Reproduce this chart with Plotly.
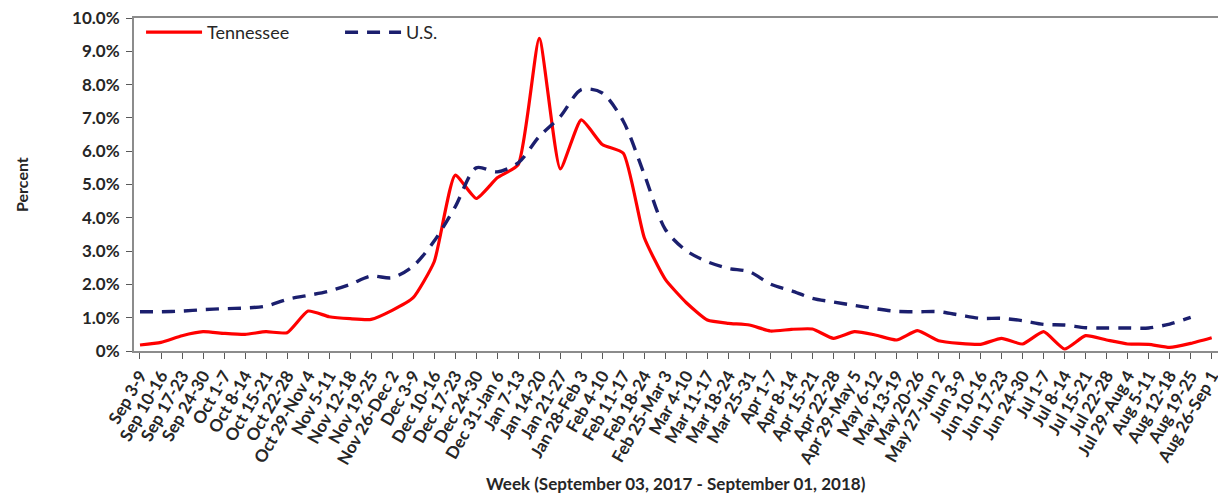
import plotly.graph_objects as go

weeks = ["Sep 3-9", "Sep 10-16", "Sep 17-23", "Sep 24-30", "Oct 1-7", "Oct 8-14",
         "Oct 15-21", "Oct 22-28", "Oct 29-Nov 4", "Nov 5-11", "Nov 12-18", "Nov 19-25",
         "Nov 26-Dec 2", "Dec 3-9", "Dec 10-16", "Dec 17-23", "Dec 24-30", "Dec 31-Jan 6",
         "Jan 7-13", "Jan 14-20", "Jan 21-27", "Jan 28-Feb 3", "Feb 4-10", "Feb 11-17",
         "Feb 18-24", "Feb 25-Mar 3", "Mar 4-10", "Mar 11-17", "Mar 18-24", "Mar 25-31",
         "Apr 1-7", "Apr 8-14", "Apr 15-21", "Apr 22-28", "Apr 29-May 5", "May 6-12",
         "May 13-19", "May 20-26", "May 27-Jun 2", "Jun 3-9", "Jun 10-16", "Jun 17-23",
         "Jun 24-30", "Jul 1-7", "Jul 8-14", "Jul 15-21", "Jul 22-28", "Jul 29-Aug 4",
         "Aug 5-11", "Aug 12-18", "Aug 19-25", "Aug 26-Sep 1"]

tennessee = [0.18, 0.26, 0.46, 0.58, 0.53, 0.50, 0.58, 0.55, 1.20, 1.03,
             0.97, 0.95, 1.22, 1.60, 2.68, 5.28, 4.58, 5.20, 5.60, 9.39,
             5.47, 6.94, 6.20, 5.94, 3.40, 2.15, 1.45, 0.93, 0.83, 0.78,
             0.60, 0.65, 0.66, 0.38, 0.58, 0.48, 0.33, 0.61, 0.31, 0.23,
             0.20, 0.38, 0.21, 0.58, 0.06, 0.46, 0.33, 0.21, 0.20, 0.11,
             0.23, 0.40]

us = [1.18, 1.18, 1.20, 1.24, 1.27, 1.29, 1.35, 1.55, 1.67, 1.80,
      2.00, 2.25, 2.20, 2.55, 3.30, 4.33, 5.50, 5.38, 5.65, 6.44,
      7.04, 7.85, 7.75, 6.90, 5.30, 3.65, 3.01, 2.68, 2.48, 2.38,
      2.01, 1.81, 1.58, 1.47, 1.37, 1.27, 1.19, 1.18, 1.18, 1.08,
      0.98, 0.98, 0.91, 0.80, 0.78, 0.70, 0.69, 0.69, 0.69, 0.81,
      1.01]

y_ticks = [0, 1, 2, 3, 4, 5, 6, 7, 8, 9, 10]
y_labels = ["0%", "1.0%", "2.0%", "3.0%", "4.0%", "5.0%", "6.0%", "7.0%", "8.0%", "9.0%", "10.0%"]

FONT = "Lato"
TXT = "#262626"

fig = go.Figure()
fig.add_trace(go.Scatter(
    x=weeks, y=tennessee, name="Tennessee", mode="lines",
    line=dict(color="#ff0000", width=3.2, shape="spline", smoothing=0.5),
))
fig.add_trace(go.Scatter(
    x=weeks[:len(us)], y=us, name="U.S.", mode="lines",
    line=dict(color="#1b1f6e", width=3.4, dash="13px,9px", shape="spline", smoothing=0.8),
))

fig.update_layout(
    width=1218, height=498,
    margin=dict(l=134, r=0, t=18, b=147),
    paper_bgcolor="white", plot_bgcolor="white",
    showlegend=True,
    legend=dict(
        orientation="h", x=0.0065, xanchor="left", y=1.012, yanchor="top",
        font=dict(family=FONT, size=18, color=TXT),
        itemwidth=56, entrywidth=128, entrywidthmode="pixels",
        bgcolor="rgba(0,0,0,0)",
    ),
    xaxis=dict(
        type="category", range=[-0.285, 51.3], automargin=False,
        showgrid=False, zeroline=False,
        showline=True, linecolor="#8c8c8c", linewidth=2, mirror=True,
        ticks="outside", ticklen=6, tickcolor="#595959", tickwidth=1,
        tickangle=-60,
        tickfont=dict(family=FONT, size=17, color=TXT, weight="bold"),
    ),
    yaxis=dict(
        range=[0, 10], tickvals=y_ticks, ticktext=y_labels, automargin=False,
        showgrid=False, zeroline=False,
        showline=True, linecolor="#8c8c8c", linewidth=2,
        ticks="outside", ticklen=6, tickcolor="#595959", tickwidth=1,
        ticklabelstandoff=3,
        tickfont=dict(family=FONT, size=17, color=TXT, weight="bold"),
    ),
    annotations=[
        dict(text="Week (September 03, 2017 - September 01, 2018)",
             xref="paper", yref="paper", x=(676 - 134) / 1084, y=-(483 - 351) / 333,
             xanchor="center", yanchor="middle", showarrow=False,
             font=dict(family=FONT, size=17, color=TXT, weight="bold")),
        dict(text="Percent", textangle=-90,
             xref="paper", yref="paper", x=(21 - 134) / 1084, y=(351 - 185) / 333,
             xanchor="center", yanchor="middle", showarrow=False,
             font=dict(family=FONT, size=16, color=TXT, weight="bold")),
    ],
)

fig.write_html("out.html", config={"displayModeBar": False},
               post_script="document.body.style.margin='0px';")
